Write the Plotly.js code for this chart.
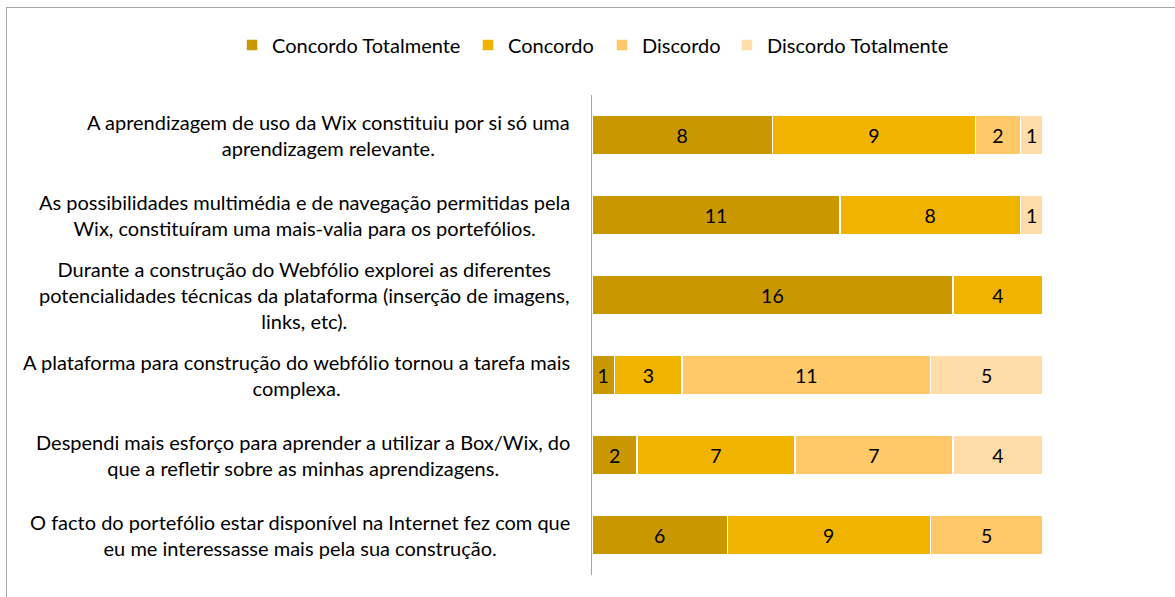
<!DOCTYPE html>
<html>
<head>
<meta charset="utf-8">
<script src="https://cdn.plot.ly/plotly-3.0.1.min.js"></script>
<style>
html,body{margin:0;padding:0;background:#fff;overflow:hidden;}
#wrap{position:relative;width:1175px;height:597px;}
#chart{position:absolute;left:0;top:0;width:1175px;height:597px;}
#frame{position:absolute;left:6px;top:7px;width:1300px;height:700px;border:1px solid #A6A6A6;pointer-events:none;}
</style>
</head>
<body>
<div id="wrap"><div id="chart"></div><div id="frame"></div></div>
<script>
const categories = [
  "A aprendizagem de uso da Wix constituiu por si só uma<br>aprendizagem relevante.",
  "As possibilidades multimédia e de navegação permitidas pela<br>Wix, constituíram uma mais-valia para os portefólios.",
  "Durante a construção do Webfólio explorei as diferentes<br>potencialidades técnicas da plataforma (inserção de imagens,<br>links, etc).",
  "A plataforma para construção do webfólio tornou a tarefa mais<br>complexa.",
  "Despendi mais esforço para aprender a utilizar a Box/Wix, do<br>que a refletir sobre as minhas aprendizagens.",
  "O facto do portefólio estar disponível na Internet fez com que<br>eu me interessasse mais pela sua construção."
];
const concordoTotalmente = [8, 11, 16, 1, 2, 6];
const concordo = [9, 8, 4, 3, 7, 9];
const discordo = [2, 0, 0, 11, 7, 5];
const discordoTotalmente = [1, 1, 0, 5, 4, 0];
const seriesNames = ["Concordo Totalmente", "Concordo", "Discordo", "Discordo Totalmente"];
const seriesColors = ["#C99800", "#F0B400", "#FFC869", "#FFDCA8"];

const ids = categories.map((c, i) => "q" + i);
const FONT = "Lato, 'Open Sans', sans-serif";
const FS = 20;
const legendKeys = ["legend", "legend2", "legend3", "legend4"];
// left edge (px) of each legend entry text in the reference
const legendTextX = [272, 508, 642, 767];

const data = [concordoTotalmente, concordo, discordo, discordoTotalmente].map((vals, k) => ({
  type: "bar",
  orientation: "h",
  name: seriesNames[k],
  legend: legendKeys[k],
  y: ids,
  x: vals,
  text: vals.map(v => v > 0 ? String(v) : ""),
  textposition: "inside",
  insidetextanchor: "middle",
  constraintext: "none",
  textfont: {family: FONT, size: 19.5, color: "#000"},
  marker: {color: seriesColors[k], line: {color: "#fff", width: 1.5}},
  hoverinfo: "skip"
}));

const W = 1175, H = 597;
const L = 592, R = W - 1043, T = 95, B = H - 575;
const plotW = W - L - R, plotH = H - T - B;

const annotations = categories.map((c, i) => ({
  xref: "paper", yref: "y",
  x: 0, y: ids[i],
  xanchor: "right", yanchor: "middle",
  xshift: -20,
  align: "center",
  showarrow: false,
  text: c,
  font: {family: FONT, size: FS, color: "#000"}
}));

const layout = {
  width: W, height: H,
  margin: {l: L, r: R, t: T, b: B, pad: 0, autoexpand: false},
  paper_bgcolor: "rgba(0,0,0,0)",
  plot_bgcolor: "rgba(0,0,0,0)",
  barmode: "stack",
  bargap: 0.5,
  font: {family: FONT, size: FS, color: "#000"},
  xaxis: {range: [0, 20], visible: false, fixedrange: true},
  yaxis: {
    type: "category", autorange: "reversed",
    showticklabels: false, ticks: "",
    showline: true, linecolor: "#A6A6A6", linewidth: 1.5,
    showgrid: false, zeroline: false, fixedrange: true
  },
  showlegend: true,
  annotations: annotations
};

legendKeys.forEach((key, k) => {
  layout[key] = {
    orientation: "h",
    xref: "paper", yref: "paper",
    x: (legendTextX[k] - 40 - L) / plotW, xanchor: "left",
    y: 1 + (T - 45) / plotH, yanchor: "middle",
    bgcolor: "rgba(0,0,0,0)",
    font: {family: FONT, size: FS, color: "#000"},
    itemclick: false, itemdoubleclick: false
  };
});

Plotly.newPlot("chart", data, layout, {displayModeBar: false, staticPlot: true});
</script>
</body>
</html>
